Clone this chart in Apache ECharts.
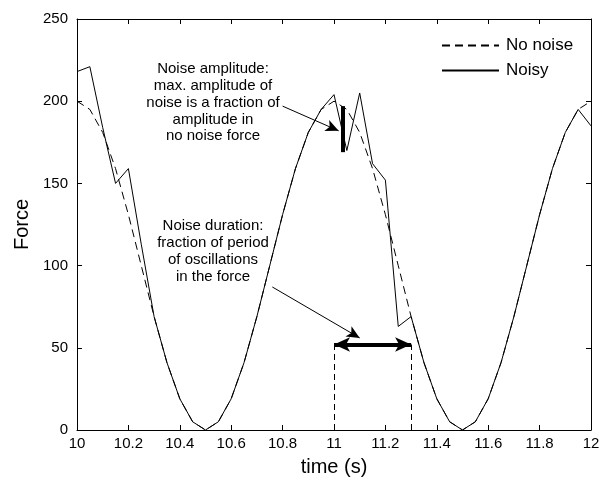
<!DOCTYPE html>
<html>
<head>
<meta charset="utf-8">
<script src="https://cdn.jsdelivr.net/npm/echarts@6/dist/echarts.min.js"></script>
<style>
  html, body { margin: 0; padding: 0; background: #fff; }
  #main { width: 602px; height: 479px; }
</style>
</head>
<body>
<div id="main"></div>
<script>
var times = [10.00, 10.05, 10.10, 10.15, 10.20, 10.25, 10.30, 10.35, 10.40, 10.45,
             10.50, 10.55, 10.60, 10.65, 10.70, 10.75, 10.80, 10.85, 10.90, 10.95,
             11.00, 11.05, 11.10, 11.15, 11.20, 11.25, 11.30, 11.35, 11.40, 11.45,
             11.50, 11.55, 11.60, 11.65, 11.70, 11.75, 11.80, 11.85, 11.90, 11.95, 12.00];
var noNoise = [200, 195, 181, 159, 131, 100, 69, 41, 19, 5,
               0, 5, 19, 41, 69, 100, 131, 159, 181, 195,
               200, 195, 181, 159, 131, 100, 69, 41, 19, 5,
               0, 5, 19, 41, 69, 100, 131, 159, 181, 195, 200];
var noisy = [218, 221, 184, 150, 159, 113, 69, 41, 19, 5,
             0, 5, 19, 41, 69, 100, 131, 159, 181, 195,
             204, 170, 205, 162, 152, 63, 69, 41, 19, 5,
             0, 5, 19, 41, 69, 100, 131, 159, 181, 195, 185];
var xTicks = {min: 10, max: 12, step: 0.2};
var yTicks = {min: 0, max: 250, step: 50};

// annotation anchors, in data units
var ampBar = {t: 11.035, lo: 169, hi: 197};
var durSpan = {t0: 11.0, t1: 11.3, f: 52};
var ampArrow = [[10.80, 197], [11.018, 182]];
var durArrow = [[10.76, 87], [11.10, 56]];

var font = 'Liberation Sans, Arial, Helvetica, sans-serif';

function pairs(xs, ys) {
  return xs.map(function (x, i) { return [x, ys[i]]; });
}

var plainLine = function (a, b, width, type, s0, s1, size) {
  return [
    {coord: a, symbol: s0 || 'none', symbolSize: size || 10},
    {coord: b, symbol: s1 || 'none', symbolSize: size || 10,
     lineStyle: {color: '#000', width: width, type: type || 'solid'}}
  ];
};

var myChart = echarts.init(document.getElementById('main'), null, {renderer: 'canvas'});

var mirrorX = {
  type: 'value', min: xTicks.min, max: xTicks.max, interval: xTicks.step,
  axisLine: {show: true, onZero: false, lineStyle: {color: '#000', width: 1}},
  axisTick: {show: true, inside: true, length: 5, lineStyle: {color: '#000'}},
  splitLine: {show: false}
};
var mirrorY = {
  type: 'value', min: yTicks.min, max: yTicks.max, interval: yTicks.step,
  axisLine: {show: true, onZero: false, lineStyle: {color: '#000', width: 1}},
  axisTick: {show: true, inside: true, length: 5, lineStyle: {color: '#000'}},
  splitLine: {show: false}
};

var option = {
  animation: false,
  backgroundColor: '#fff',
  textStyle: {fontFamily: font},
  grid: {left: 77, right: 11, top: 19, bottom: 49, outerBoundsMode: 'none'},
  legend: {
    orient: 'vertical',
    left: 436,
    top: 32,
    itemWidth: 57,
    itemHeight: 12,
    itemGap: 8,
    itemStyle: {opacity: 0},
    textStyle: {fontFamily: font, fontSize: 17, color: '#000', padding: [0, 0, 0, 2]},
    data: ['No noise', 'Noisy']
  },
  xAxis: [
    Object.assign({}, mirrorX, {
      position: 'bottom',
      name: 'time (s)', nameLocation: 'middle', nameGap: 27,
      nameTextStyle: {fontFamily: font, fontSize: 20, color: '#000', verticalAlign: 'top'},
      axisLabel: {show: true, color: '#000', fontSize: 15, fontFamily: font, margin: 6,
                  formatter: function (v) { return String(Math.round(v * 10) / 10); }}
    }),
    Object.assign({}, mirrorX, {position: 'top', axisLabel: {show: false}})
  ],
  yAxis: [
    Object.assign({}, mirrorY, {
      position: 'left',
      name: 'Force', nameLocation: 'middle', nameGap: 44,
      nameTextStyle: {fontFamily: font, fontSize: 20, color: '#000'},
      axisLabel: {show: true, color: '#000', fontSize: 15, fontFamily: font, margin: 9}
    }),
    Object.assign({}, mirrorY, {position: 'right', axisLabel: {show: false}})
  ],
  graphic: [
    {
      type: 'text', x: 213, y: 61,
      style: {
        text: 'Noise amplitude:\nmax. amplitude of\nnoise is a fraction of\namplitude in\nno noise force',
        fill: '#000', font: '15px ' + font, align: 'center', lineHeight: 16.7
      }
    },
    {
      type: 'text', x: 213, y: 218,
      style: {
        text: 'Noise duration:\nfraction of period\nof oscillations\nin the force',
        fill: '#000', font: '15px ' + font, align: 'center', lineHeight: 16.7
      }
    }
  ],
  series: [
    {
      name: 'No noise',
      type: 'line',
      symbol: 'none',
      data: pairs(times, noNoise),
      lineStyle: {color: '#000', width: 1, type: [8, 5]},
      itemStyle: {color: '#000'},
      z: 2
    },
    {
      name: 'Noisy',
      type: 'line',
      symbol: 'none',
      data: pairs(times, noisy),
      lineStyle: {color: '#000', width: 1},
      itemStyle: {color: '#000'},
      z: 3,
      markLine: {
        silent: true,
        symbol: ['none', 'none'],
        label: {show: false},
        emphasis: {disabled: true},
        data: [
          plainLine([ampBar.t, ampBar.lo], [ampBar.t, ampBar.hi], 4),
          plainLine([durSpan.t0, 0], [durSpan.t0, durSpan.f], 1, [6, 4]),
          plainLine([durSpan.t1, 0], [durSpan.t1, durSpan.f], 1, [6, 4]),
          plainLine([durSpan.t0, durSpan.f], [durSpan.t1, durSpan.f], 4, 'solid', 'arrow', 'arrow', [11, 16]),
          plainLine(ampArrow[0], ampArrow[1], 1, 'solid', 'none', 'arrow', [9, 13]),
          plainLine(durArrow[0], durArrow[1], 1, 'solid', 'none', 'arrow', [9, 13])
        ]
      }
    }
  ]
};

myChart.setOption(option);
</script>
</body>
</html>
